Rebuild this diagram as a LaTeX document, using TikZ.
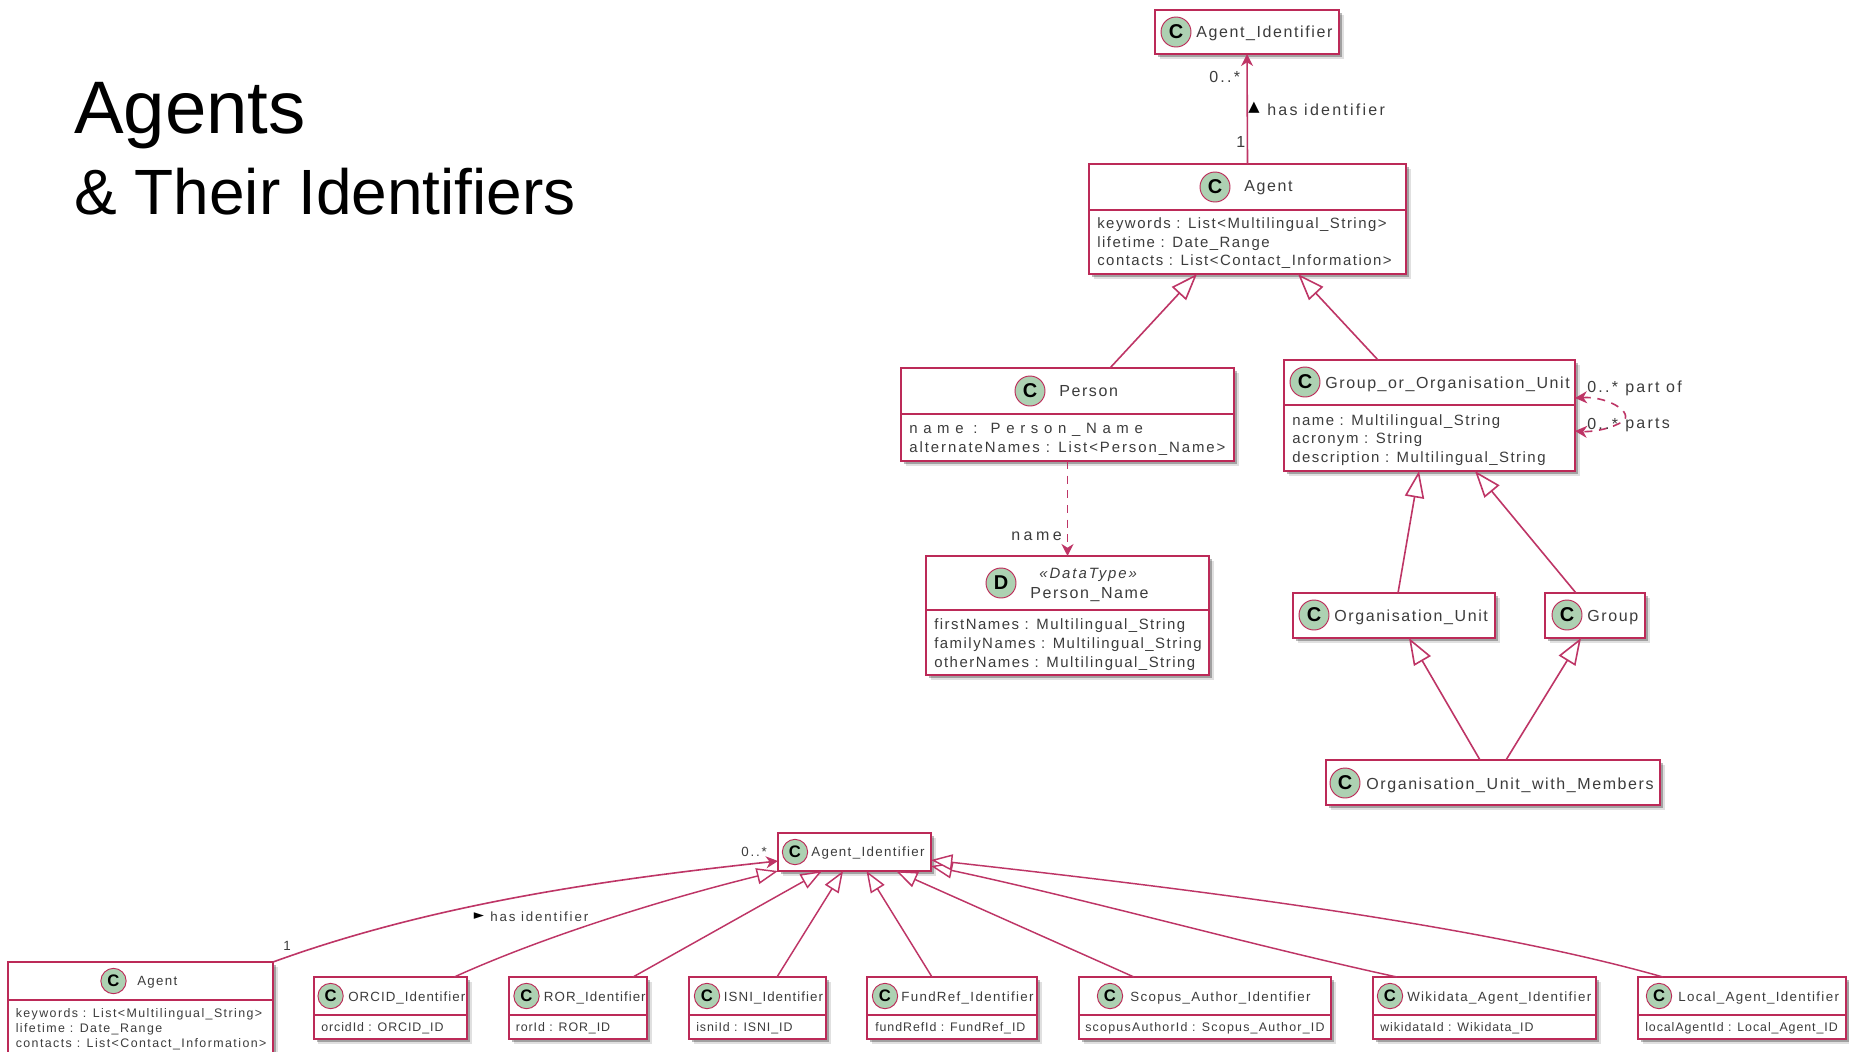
\documentclass[tikz,border=0pt]{standalone}
\usepackage{fontspec}
\setmainfont{Liberation Sans}
\newfontfamily\umlfont[LetterSpace=10]{Liberation Sans}
\newfontfamily\linkfont[LetterSpace=14]{Liberation Sans}
\newfontfamily\symbfont{DejaVu Sans}
\usetikzlibrary{arrows.meta,calc,shadows}
\definecolor{plantred}{HTML}{BC2A58}
\definecolor{linkred}{HTML}{BE3566}
\definecolor{spotgreen}{HTML}{ADD1B2}
\definecolor{umlgrey}{HTML}{3C3C3C}
\tikzset{
  classbox/.style={rectangle,draw=plantred,line width=1.8pt,fill=white,inner sep=0pt,outer sep=0pt,anchor=north west,
    drop shadow={shadow xshift=3.6pt,shadow yshift=-3.6pt,fill=black,opacity=0.12},
    drop shadow={shadow xshift=2.4pt,shadow yshift=-2.4pt,fill=black,opacity=0.28}},
  classline/.style={draw=plantred,line width=1.3pt},
  spotbig/.style={circle,draw=plantred,line width=0.7pt,fill=spotgreen,inner sep=0pt,minimum size=22.5pt,text=black,font=\bfseries\fontsize{15}{15}\selectfont},
  spotsmall/.style={spotbig,minimum size=19pt,font=\bfseries\fontsize{12.5}{12.5}\selectfont},
  titlebig/.style={inner sep=0pt,anchor=base west,text=umlgrey,font=\umlfont\fontsize{12}{14}\selectfont},
  titlesmall/.style={titlebig,font=\umlfont\fontsize{10}{12}\selectfont},
  titletight/.style={titlebig,font=\umlfont\addfontfeature{LetterSpace=7.8}\fontsize{10}{12}\selectfont},
  memberbig/.style={inner sep=0pt,anchor=west,align=left,text=umlgrey,font=\umlfont\fontsize{11.2}{14}\selectfont},
  membersmall/.style={memberbig,font=\umlfont\fontsize{9.3}{11.6}\selectfont},
  membertight/.style={memberbig,font=\umlfont\addfontfeature{LetterSpace=7.5}\fontsize{9.3}{11.6}\selectfont},
  linklabel/.style={inner sep=0pt,anchor=base west,text=umlgrey,font=\linkfont\fontsize{12}{14}\selectfont},
  linksmall/.style={linklabel,font=\linkfont\fontsize{10}{12}\selectfont},
  linkline/.style={draw=linkred,line width=1.2pt},
  assoc/.style={linkline,-{Stealth[length=9pt,width=9pt,inset=2.8pt]}},
  genbig/.style={linkline,-{Triangle[open,length=20pt,width=14.5pt,fill=white]}},
  gensmall/.style={linkline,line width=1.1pt,-{Triangle[open,length=16pt,width=12pt,fill=white]}},
}
\begin{document}
\begin{tikzpicture}[x=0.75pt,y=0.75pt,yscale=-1,xscale=1]
\fill[white] (0,0) rectangle (1849,1051);
\useasboundingbox (0,0) rectangle (1849,1051);

% Heading
\node (headOne) [inner sep=0pt,anchor=base west,font=\fontsize{55.8}{60}\selectfont] at (74,133) {Agents};
\node (headTwo) [inner sep=0pt,anchor=base west,font=\fontsize{48}{52}\selectfont] at (74,214) {\& Their Identifiers};

%Class: Agent_Identifier (top)
\node (agentTop) [classbox,minimum width=184*0.75pt,minimum height=44*0.75pt] at (1155,10) {};
\node (agentTopSpot) [spotbig] at (1176,32) {C};
\node (agentTopName) [titlebig] at (1196,37.5) {Agent\_Identifier};

%Class: Agent
\node (agentMain) [classbox,minimum width=317*0.75pt,minimum height=110*0.75pt] at (1089,164) {};
\draw [classline] (agentMain.west |- 0,210) -- (agentMain.east |- 0,210);
\node (agentMainSpot) [spotbig] at (1215,187) {C};
\node (agentMainName) [titlebig] at (1244,191) {Agent};
\node (agentMainBody) [memberbig] at (1097,243.2) {keywords : List<Multilingual\_String>\\lifetime : Date\_Range\\contacts : List<Contact\_Information>};

%Class: Person
\node (person) [classbox,minimum width=333*0.75pt,minimum height=93*0.75pt] at (901,368) {};
\draw [classline] (person.west |- 0,414) -- (person.east |- 0,414);
\node (personSpot) [spotbig] at (1030,391) {C};
\node (personName) [titlebig] at (1059,396) {Person};
\node (personBody) [memberbig] at (909,439.5) {{\addfontfeature{LetterSpace=38}name : Person\_Name}\\{\addfontfeature{LetterSpace=13}alternateNames : List<Person\_Name>}};

%Class: Person_Name
\node (nameType) [classbox,minimum width=283*0.75pt,minimum height=119*0.75pt] at (926,556) {};
\draw [classline] (nameType.west |- 0,610) -- (nameType.east |- 0,610);
\node (nameTypeSpot) [spotbig] at (1001,583) {D};
\node (nameTypeKind) [titlebig,font=\umlfont\addfontfeature{LetterSpace=13}\itshape\fontsize{11.2}{14}\selectfont] at (1039,578) {«DataType»};
\node (nameTypeName) [titlebig] at (1030,598) {Person\_Name};
\node (nameTypeBody) [memberbig] at (934,644.5) {firstNames : Multilingual\_String\\familyNames : Multilingual\_String\\otherNames : Multilingual\_String};

%Class: Group_or_Organisation_Unit
\node (groupUnit) [classbox,minimum width=291*0.75pt,minimum height=111*0.75pt] at (1284,360) {};
\draw [classline] (groupUnit.west |- 0,405) -- (groupUnit.east |- 0,405);
\node (groupUnitSpot) [spotbig] at (1305,382) {C};
\node (groupUnitName) [titlebig] at (1325,388) {Group\_or\_Organisation\_Unit};
\node (groupUnitBody) [memberbig] at (1292,440) {name : Multilingual\_String\\acronym : String\\description : Multilingual\_String};

%Class: Organisation_Unit
\node (orgUnit) [classbox,minimum width=202*0.75pt,minimum height=45*0.75pt] at (1293,593) {};
\node (orgUnitSpot) [spotbig] at (1314,615) {C};
\node (orgUnitName) [titlebig] at (1334,621) {Organisation\_Unit};

%Class: Group
\node (groupBox) [classbox,minimum width=100*0.75pt,minimum height=45*0.75pt] at (1545,593) {};
\node (groupBoxSpot) [spotbig] at (1567,615) {C};
\node (groupBoxName) [titlebig] at (1587,621) {Group};

%Class: Organisation_Unit_with_Members
\node (unitMembers) [classbox,minimum width=334*0.75pt,minimum height=45*0.75pt] at (1326,760) {};
\node (unitMembersSpot) [spotbig] at (1345,783) {C};
\node (unitMembersName) [titlebig] at (1366,789) {Organisation\_Unit\_with\_Members};

%Class: Agent_Identifier (bottom)
\node (agentIdB) [classbox,line width=1.5pt,minimum width=153*0.75pt,minimum height=38*0.75pt] at (778,833) {};
\node (agentIdBSpot) [spotsmall] at (795,852) {C};
\node (agentIdBName) [titlesmall] at (811,856) {Agent\_Identifier};

%Class: Agent (bottom)
\node (agentB) [classbox,line width=1.5pt,minimum width=265*0.75pt,minimum height=96*0.75pt] at (8,962) {};
\draw [classline] (agentB.west |- 0,1000) -- (agentB.east |- 0,1000);
\node (agentBSpot) [spotsmall] at (113.5,981) {C};
\node (agentBName) [titlesmall] at (137,985.5) {Agent};
\node (agentBBody) [membersmall,font=\umlfont\addfontfeature{LetterSpace=11.5}\fontsize{9.3}{11.6}\selectfont] at (15.5,1029.2) {keywords : List<Multilingual\_String>\\lifetime : Date\_Range\\contacts : List<Contact\_Information>};

%Class: ORCID_Identifier
\node (orcid) [classbox,line width=1.5pt,minimum width=153.5*0.75pt,minimum height=62*0.75pt] at (313.5,977) {};
\draw [classline] (orcid.west |- 0,1015) -- (orcid.east |- 0,1015);
\node (orcidSpot) [spotsmall] at (330.6,996) {C};
\node (orcidName) [titletight] at (348,1001) {ORCID\_Identifier};
\node (orcidBody) [membertight] at (321,1028.5) {orcidId : ORCID\_ID};

%Class: ROR_Identifier
\node (ror) [classbox,line width=1.5pt,minimum width=138*0.75pt,minimum height=62*0.75pt] at (509,977) {};
\draw [classline] (ror.west |- 0,1015) -- (ror.east |- 0,1015);
\node (rorSpot) [spotsmall] at (526.5,996) {C};
\node (rorName) [titletight] at (543.7,1001) {ROR\_Identifier};
\node (rorBody) [membertight] at (515.5,1028.5) {rorId : ROR\_ID};

%Class: ISNI_Identifier
\node (isni) [classbox,line width=1.5pt,minimum width=137*0.75pt,minimum height=62*0.75pt] at (689,977) {};
\draw [classline] (isni.west |- 0,1015) -- (isni.east |- 0,1015);
\node (isniSpot) [spotsmall] at (707,996) {C};
\node (isniName) [titletight] at (723.7,1001) {ISNI\_Identifier};
\node (isniBody) [membertight] at (696,1028.5) {isniId : ISNI\_ID};

%Class: FundRef_Identifier
\node (fundRef) [classbox,line width=1.5pt,minimum width=170*0.75pt,minimum height=62*0.75pt] at (867,977) {};
\draw [classline] (fundRef.west |- 0,1015) -- (fundRef.east |- 0,1015);
\node (fundRefSpot) [spotsmall] at (885,996) {C};
\node (fundRefName) [titlesmall] at (901,1001) {FundRef\_Identifier};
\node (fundRefBody) [membertight] at (875,1028.5) {fundRefId : FundRef\_ID};

%Class: Scopus_Author_Identifier
\node (scopus) [classbox,line width=1.5pt,minimum width=252*0.75pt,minimum height=62*0.75pt] at (1079,977) {};
\draw [classline] (scopus.west |- 0,1015) -- (scopus.east |- 0,1015);
\node (scopusSpot) [spotsmall] at (1110,996) {C};
\node (scopusName) [titlesmall] at (1130,1001) {Scopus\_Author\_Identifier};
\node (scopusBody) [membersmall] at (1085,1028.5) {scopusAuthorId : Scopus\_Author\_ID};

%Class: Wikidata_Agent_Identifier
\node (wikidata) [classbox,line width=1.5pt,minimum width=223*0.75pt,minimum height=62*0.75pt] at (1373,977) {};
\draw [classline] (wikidata.west |- 0,1015) -- (wikidata.east |- 0,1015);
\node (wikidataSpot) [spotsmall] at (1390,996) {C};
\node (wikidataName) [titlesmall] at (1407,1001) {Wikidata\_Agent\_Identifier};
\node (wikidataBody) [membertight] at (1380,1028.5) {wikidataId : Wikidata\_ID};

%Class: Local_Agent_Identifier
\node (localId) [classbox,line width=1.5pt,minimum width=208*0.75pt,minimum height=62*0.75pt] at (1638,977) {};
\draw [classline] (localId.west |- 0,1015) -- (localId.east |- 0,1015);
\node (localIdSpot) [spotsmall] at (1659,996) {C};
\node (localIdName) [titlesmall] at (1678,1001) {Local\_Agent\_Identifier};
\node (localIdBody) [membertight] at (1645,1028.5) {localAgentId : Local\_Agent\_ID};

%Straight Lines: upper diagram
\draw [assoc] (agentMain.north) -- (agentTop.south);
\draw [genbig] ($(person.north)+(42.5,0)$) -- ($(agentMain.south)+(-50.5,0)$);
\draw [genbig] ($(groupUnit.north)+(-51.5,0)$) -- ($(agentMain.south)+(50.5,0)$);
\draw [assoc,dash pattern=on 6pt off 5pt] (person.south) -- (nameType.north);
\draw [genbig] ($(orgUnit.north)+(4,0)$) -- ($(groupUnit.south)+(-10.5,0)$);
\draw [genbig] ($(groupBox.north)+(-19,0)$) -- ($(groupUnit.south)+(45.5,0)$);
\draw [genbig] ($(unitMembers.north)+(-13,0)$) -- ($(orgUnit.south)+(15,0)$);
\draw [genbig] ($(unitMembers.north)+(13,0)$) -- ($(groupBox.south)+(-14,0)$);

%Self loop on Group_or_Organisation_Unit
\draw [linkline,dash pattern=on 6pt off 5pt,{Stealth[length=9pt,width=9pt,inset=2.8pt]}-{Stealth[length=9pt,width=9pt,inset=2.8pt]}] ($(groupUnit.east)+(0,-17.5)$) .. controls (1610,396) and (1640,416) .. (1618,424) .. controls (1606,430) and (1590,432) .. ($(groupUnit.east)+(0,15.5)$);

%Lines: lower diagram
\draw [assoc] (agentB.north east) .. controls (430,905) and (600,880) .. ($(agentIdB.west)+(0,9)$);
\draw [gensmall] ($(orcid.north)+(64,0)$) .. controls (540,938) and (660,900) .. (agentIdB.south west);
\draw [gensmall] ($(ror.north)+(55,0)$) -- ($(agentIdB.south)+(-32.5,0)$);
\draw [gensmall] ($(isni.north)+(19.5,0)$) -- ($(agentIdB.south)+(-11.5,0)$);
\draw [gensmall] ($(fundRef.north)+(-20,0)$) -- ($(agentIdB.south)+(12,0)$);
\draw [gensmall] ($(scopus.north)+(-71,0)$) -- ($(agentIdB.south)+(41.5,0)$);
\draw [gensmall] ($(wikidata.north)+(-87.5,0)$) .. controls (1250,945) and (1090,900) .. ($(agentIdB.east)+(0,14)$);
\draw [gensmall] ($(localId.north)+(-79,0)$) .. controls (1480,925) and (1200,890) .. ($(agentIdB.east)+(0,8)$);

% Text Node
\node (topMany) [linklabel] at (1209,82) {0..*};
\node (topOne) [linklabel] at (1236,147) {1};
\node (topArrow) [linklabel,anchor=center,text=black,font=\symbfont\fontsize{11}{11}\selectfont] at (1254,108) {▲};
\node (topHas) [linklabel] at (1267,115) {has identifier};
\node (nameRole) [linklabel,font=\umlfont\addfontfeature{LetterSpace=22}\fontsize{12}{14}\selectfont] at (1011,540) {name};
\node (partMany) [linklabel] at (1587,392) {0..*};
\node (partOf) [linklabel] at (1625,392) {part of};
\node (partsMany) [linklabel] at (1587,429) {0..*};
\node (partsName) [linklabel] at (1625,428) {parts};
\node (bottomMany) [linksmall] at (741,856) {0..*};
\node (bottomOne) [linksmall] at (283,950) {1};
\node (bottomArrow) [linksmall,anchor=center,text=black,font=\symbfont\fontsize{10}{10}\selectfont] at (479,916) {►};
\node (bottomHas) [linksmall] at (490,921) {has identifier};

\end{tikzpicture}
\end{document}
